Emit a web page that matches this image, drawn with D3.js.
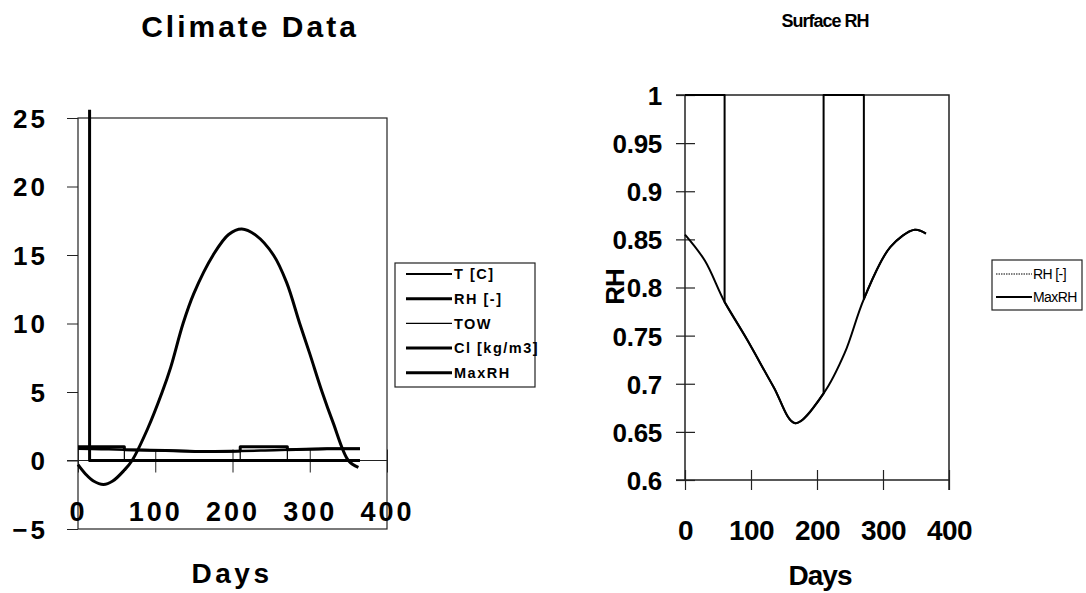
<!DOCTYPE html>
<html>
<head>
<meta charset="utf-8">
<script src="https://cdn.jsdelivr.net/npm/d3@7"></script>
<style>
  body { margin: 0; background: #fff; }
  svg { display: block; }
  text { font-family: "Liberation Sans", Arial, sans-serif; fill: #000; }
</style>
</head>
<body>
<svg id="drawing_region" width="1086" height="593"></svg>
<script>
// ---- data ----
const tempDays   = [0, 10, 20, 33, 45, 60, 70, 90, 109, 120, 136, 150, 175, 195, 212, 230, 253, 270, 287, 300, 316, 330, 350, 363];
const tempValues = [-0.3, -1.0, -1.5, -1.75, -1.5, -0.7, 0, 2.3, 5, 6.8, 10, 12.2, 15, 16.5, 16.9, 16.45, 15, 13, 10, 7.8, 5, 2.8, 0, -0.5];

const rhDays   = [0, 30, 60, 94, 134, 167, 210, 242, 271, 311, 348, 365];
const rhValues = [0.855, 0.828, 0.785, 0.746, 0.697, 0.659, 0.690, 0.732, 0.788, 0.842, 0.860, 0.856];

const towDays   = [0, 60, 60, 210, 210, 271, 271, 365];
const towValues = [1, 1, 0, 0, 1, 1, 0, 0];

const clDays   = [15, 15, 365];
const clValues = [25.6, 0, 0];

const maxRhDays   = [0, 60, 60, 94, 134, 167, 210, 210, 271, 271, 311, 348, 365];
const maxRhValues = [1, 1, 0.785, 0.746, 0.697, 0.659, 0.690, 1, 1, 0.788, 0.842, 0.860, 0.856];

const climateLegend = ["T [C]", "RH [-]", "TOW", "Cl [kg/m3]", "MaxRH"];
const surfaceLegend = ["RH [-]", "MaxRH"];
const climateYTicks = [-5, 0, 5, 10, 15, 20, 25];
const dayTicks      = [0, 100, 200, 300, 400];
const rhTicks       = [0.6, 0.65, 0.7, 0.75, 0.8, 0.85, 0.9, 0.95, 1];

const zip = (xs, ys) => xs.map((x, i) => [x, ys[i]]);

// smooth curve, but keep jumps (repeated day) as straight vertical steps
function stepCurve(line, pts) {
    const runs = [[]];
    pts.forEach((p, i) => {
        if (i > 0 && p[0] === pts[i - 1][0]) runs.push([]);
        runs[runs.length - 1].push(p);
    });
    return runs.map((r, i) => {
        let d = line(r).replace(/Z$/, '');
        return i ? 'L' + d.slice(1) : d;
    }).join('');
}

const svg = d3.select('#drawing_region');

// ================= Climate Data =================
{
    const x = d3.scaleLinear().domain([0, 400]).range([78, 387]);
    const y = d3.scaleLinear().domain([-5, 25]).range([529, 118]);
    const g = svg.append('g');

    g.append('text').attr('x', 250).attr('y', 37).attr('text-anchor', 'middle')
        .style('font-size', '30px').style('font-weight', 'bold').style('letter-spacing', '3px')
        .text('Climate Data');

    // frame
    g.append('rect').attr('x', 78).attr('y', 118).attr('width', 309).attr('height', 411)
        .attr('fill', 'none').attr('stroke', '#222').attr('stroke-width', 1.2);

    const yAxis = g.append('g').attr('transform', 'translate(78,0)')
        .call(d3.axisLeft(y).tickValues(climateYTicks).tickSize(11).tickPadding(19));
    yAxis.select('.domain').remove();
    yAxis.selectAll('line').attr('stroke', '#222');
    yAxis.selectAll('text').attr('font-family', null).style('font-size', '26px')
        .style('font-weight', 'bold').style('letter-spacing', '3px').attr('dy', '0.36em');

    const xAxis = g.append('g').attr('transform', `translate(0,${y(0)})`)
        .call(d3.axisBottom(x).tickValues(dayTicks).tickSize(12));
    xAxis.select('.domain').remove();
    xAxis.selectAll('line').attr('y1', -11).attr('stroke', '#222');
    xAxis.selectAll('text').attr('font-family', null).attr('y', 60).attr('dy', null)
        .style('font-size', '27px').style('font-weight', 'bold').style('letter-spacing', '3px');
    g.append('line').attr('x1', 67).attr('x2', 387).attr('y1', y(0)).attr('y2', y(0))
        .attr('stroke', '#222').attr('stroke-width', 1.2);

    g.append('text').attr('x', 232).attr('y', 583).attr('text-anchor', 'middle')
        .style('font-size', '28px').style('font-weight', 'bold').style('letter-spacing', '3.5px')
        .text('Days');

    const smooth = d3.line().x(d => x(d[0])).y(d => y(d[1])).curve(d3.curveCatmullRom);
    const straight = d3.line().x(d => x(d[0])).y(d => y(d[1]));

    const series = [
        { d: smooth(zip(tempDays, tempValues)), w: 3 },
        { d: smooth(zip(rhDays, rhValues)), w: 2.5 },
        { d: straight(zip(towDays, towValues)), w: 1.2 },
        { d: straight(zip(clDays, clValues)), w: 3 },
        { d: stepCurve(smooth, zip(maxRhDays, maxRhValues)), w: 3 }
    ];
    g.selectAll('path.series').data(series).enter().append('path')
        .attr('class', 'series')
        .attr('d', s => s.d).attr('fill', 'none').attr('stroke', '#000')
        .attr('stroke-width', s => s.w).attr('stroke-linejoin', 'round');

    // legend
    const lg = g.append('g');
    lg.append('rect').attr('x', 395).attr('y', 263).attr('width', 140).attr('height', 124)
        .attr('fill', '#fff').attr('stroke', '#222').attr('stroke-width', 1.2);
    const widths = [2, 3, 1.2, 3, 3];
    const item = lg.selectAll('g.item').data(climateLegend).enter().append('g')
        .attr('class', 'item').attr('transform', (d, i) => `translate(0,${274 + i * 24.7})`);
    item.append('line').attr('x1', 406).attr('x2', 452)
        .attr('stroke', '#000').attr('stroke-width', (d, i) => widths[i]);
    item.append('text').attr('x', 454).attr('dy', '0.36em')
        .style('font-size', '14.5px').style('font-weight', 'bold').style('letter-spacing', '1.5px')
        .text(d => d);
}

// ================= Surface RH =================
{
    const x = d3.scaleLinear().domain([0, 400]).range([685, 949]);
    const y = d3.scaleLinear().domain([0.6, 1]).range([480, 95]);
    const g = svg.append('g');

    g.append('text').attr('x', 825).attr('y', 27).attr('text-anchor', 'middle')
        .style('font-size', '18px').style('font-weight', 'bold').style('letter-spacing', '-1px')
        .text('Surface RH');

    // frame
    g.append('path').attr('d', `M676,95H949V490M676,480H949`)
        .attr('fill', 'none').attr('stroke', '#222').attr('stroke-width', 1.5);
    g.append('line').attr('x1', 685).attr('x2', 685).attr('y1', 95).attr('y2', 480)
        .attr('stroke', '#222').attr('stroke-width', 1.5);

    const yAxis = g.append('g').attr('transform', 'translate(685,0)')
        .call(d3.axisLeft(y).tickValues(rhTicks).tickSize(9).tickPadding(14).tickFormat(d3.format('')));
    yAxis.select('.domain').remove();
    yAxis.selectAll('line').attr('x1', 10).attr('stroke', '#222').attr('stroke-width', 1.2);
    yAxis.selectAll('text').attr('font-family', null).attr('dy', '0.36em')
        .style('font-size', '26px').style('font-weight', 'bold').style('letter-spacing', '-0.3px');

    const xAxis = g.append('g').attr('transform', 'translate(0,480)')
        .call(d3.axisBottom(x).tickValues(dayTicks).tickSize(10));
    xAxis.select('.domain').remove();
    xAxis.selectAll('line').attr('y1', -10).attr('stroke', '#222').attr('stroke-width', 1.2);
    xAxis.selectAll('text').attr('font-family', null).attr('y', 60).attr('dy', null)
        .style('font-size', '28px').style('font-weight', 'bold').style('letter-spacing', '-0.5px');

    g.append('text').attr('x', 820).attr('y', 585).attr('text-anchor', 'middle')
        .style('font-size', '28px').style('font-weight', 'bold').style('letter-spacing', '-1px')
        .text('Days');
    g.append('text').attr('transform', 'translate(624,287) rotate(-90)').attr('text-anchor', 'middle')
        .style('font-size', '26px').style('font-weight', 'bold').style('letter-spacing', '-1px')
        .text('RH');

    const smooth = d3.line().x(d => x(d[0])).y(d => y(d[1])).curve(d3.curveCatmullRom);

    g.append('path').attr('d', smooth(zip(rhDays, rhValues)))
        .attr('fill', 'none').attr('stroke', '#000').attr('stroke-width', 2);
    g.append('path').attr('d', stepCurve(smooth, zip(maxRhDays, maxRhValues)))
        .attr('fill', 'none').attr('stroke', '#000').attr('stroke-width', 2)
        .attr('stroke-linejoin', 'round');

    // legend
    const lg = g.append('g');
    lg.append('rect').attr('x', 992).attr('y', 260).attr('width', 90).attr('height', 50)
        .attr('fill', '#fff').attr('stroke', '#222').attr('stroke-width', 1.2);
    const item = lg.selectAll('g.item').data(surfaceLegend).enter().append('g')
        .attr('class', 'item').attr('transform', (d, i) => `translate(0,${274 + i * 23})`);
    item.append('line').attr('x1', 996).attr('x2', 1032).attr('stroke', '#000')
        .attr('stroke-width', (d, i) => i ? 2.2 : 1).attr('stroke-dasharray', (d, i) => i ? null : '1.5,1');
    item.append('text').attr('x', 1033).attr('dy', '0.36em')
        .style('font-size', '14px').style('letter-spacing', '-0.6px')
        .text(d => d);
}
</script>
</body>
</html>
